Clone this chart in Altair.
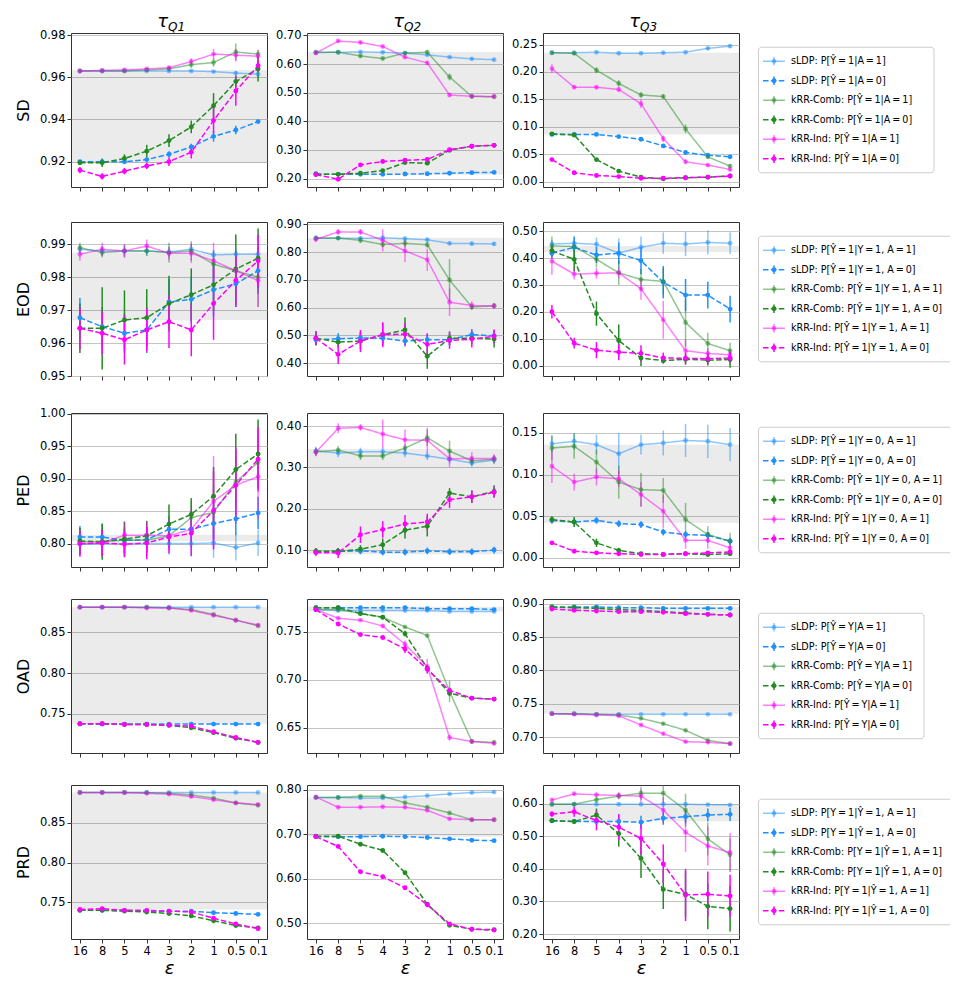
import altair as alt
import pandas as pd

# ---------------- data ----------------
EPS = ["16", "8", "5", "4", "3", "2", "1", "0.5", "0.1"]
SERIES = ["sLDP_A1", "sLDP_A0", "Comb_A1", "Comb_A0", "Ind_A1", "Ind_A0"]
PREFIX = ["sLDP: ", "sLDP: ", "kRR-Comb: ", "kRR-Comb: ", "kRR-Ind: ", "kRR-Ind: "]
METRICS = ["SD", "EOD", "PED", "OAD", "PRD"]
QUANTS = ["Q1", "Q2", "Q3"]

T = "\u2009=\u2009"  # thin-spaced equals sign
LEG_SD = [f"P[Ŷ{T}1|A{T}1]", f"P[Ŷ{T}1|A{T}0]"]
LEG_EOD = [f"P[Ŷ{T}1|Y{T}1, A{T}1]", f"P[Ŷ{T}1|Y{T}1, A{T}0]"]
LEG_PED = [f"P[Ŷ{T}1|Y{T}0, A{T}1]", f"P[Ŷ{T}1|Y{T}0, A{T}0]"]
LEG_OAD = [f"P[Ŷ{T}Y|A{T}1]", f"P[Ŷ{T}Y|A{T}0]"]
LEG_PRD = [f"P[Y{T}1|Ŷ{T}1, A{T}1]", f"P[Y{T}1|Ŷ{T}1, A{T}0]"]

# order of series in each panel: sLDP A=1, sLDP A=0, Comb A=1, Comb A=0, Ind A=1, Ind A=0
SD_Q1 = [
    [0.963, 0.963, 0.963, 0.963, 0.963, 0.963, 0.9627, 0.962, 0.9615],
    [0.920, 0.920, 0.920, 0.921, 0.9235, 0.927, 0.932, 0.935, 0.939],
    [0.963, 0.963, 0.963, 0.9635, 0.964, 0.966, 0.967, 0.972, 0.971],
    [0.9195, 0.9195, 0.9215, 0.925, 0.930, 0.9365, 0.9465, 0.958, 0.964],
    [0.963, 0.9633, 0.9635, 0.964, 0.9645, 0.9675, 0.971, 0.9705, 0.970],
    [0.916, 0.913, 0.9155, 0.918, 0.920, 0.9245, 0.9395, 0.9535, 0.9655]]
SD_Q1_ERR = [
    [0.0005, 0.0005, 0.0005, 0.0005, 0.0005, 0.0005, 0.0005, 0.001, 0.0015],
    [0.0008, 0.001, 0.001, 0.001, 0.0015, 0.0015, 0.0025, 0.002, 0.001],
    [0.0005, 0.0005, 0.0005, 0.0005, 0.0008, 0.0015, 0.002, 0.004, 0.002],
    [0.001, 0.002, 0.002, 0.003, 0.003, 0.003, 0.006, 0.003, 0.006],
    [0.0005, 0.0005, 0.0005, 0.0005, 0.0008, 0.0015, 0.0025, 0.003, 0.003],
    [0.0015, 0.0015, 0.0015, 0.0015, 0.002, 0.003, 0.006, 0.007, 0.003]]
SD_Q2 = [
    [0.640, 0.641, 0.642, 0.641, 0.638, 0.632, 0.624, 0.618, 0.615],
    [0.217, 0.216, 0.216, 0.216, 0.217, 0.218, 0.220, 0.222, 0.223],
    [0.641, 0.641, 0.628, 0.619, 0.638, 0.641, 0.555, 0.487, 0.486],
    [0.217, 0.216, 0.220, 0.229, 0.257, 0.255, 0.300, 0.314, 0.317],
    [0.638, 0.680, 0.675, 0.661, 0.624, 0.604, 0.492, 0.488, 0.487],
    [0.215, 0.199, 0.249, 0.261, 0.265, 0.268, 0.302, 0.314, 0.317]]
SD_Q2_ERR = [
    [0.004, 0.004, 0.004, 0.004, 0.004, 0.004, 0.004, 0.004, 0.004],
    [0.004, 0.004, 0.004, 0.004, 0.004, 0.004, 0.004, 0.004, 0.004],
    [0.004, 0.004, 0.006, 0.005, 0.006, 0.007, 0.012, 0.005, 0.005],
    [0.004, 0.004, 0.005, 0.005, 0.006, 0.006, 0.006, 0.005, 0.005],
    [0.005, 0.005, 0.005, 0.005, 0.006, 0.006, 0.006, 0.005, 0.005],
    [0.005, 0.006, 0.006, 0.006, 0.006, 0.006, 0.006, 0.005, 0.005]]
SD_Q3 = [
    [0.235, 0.235, 0.236, 0.234, 0.234, 0.235, 0.236, 0.243, 0.247],
    [0.086, 0.086, 0.086, 0.082, 0.077, 0.065, 0.053, 0.048, 0.045],
    [0.235, 0.234, 0.203, 0.179, 0.158, 0.155, 0.096, 0.045, 0.028],
    [0.087, 0.085, 0.040, 0.019, 0.008, 0.005, 0.007, 0.008, 0.010],
    [0.206, 0.172, 0.172, 0.168, 0.142, 0.078, 0.036, 0.030, 0.022],
    [0.040, 0.016, 0.011, 0.009, 0.006, 0.006, 0.007, 0.008, 0.010]]
SD_Q3_ERR = [
    [0.002, 0.002, 0.002, 0.002, 0.002, 0.002, 0.002, 0.003, 0.003],
    [0.002, 0.002, 0.002, 0.002, 0.002, 0.002, 0.002, 0.002, 0.002],
    [0.002, 0.003, 0.005, 0.006, 0.005, 0.004, 0.008, 0.004, 0.004],
    [0.002, 0.003, 0.003, 0.002, 0.002, 0.001, 0.001, 0.001, 0.001],
    [0.008, 0.003, 0.003, 0.004, 0.008, 0.006, 0.004, 0.003, 0.003],
    [0.002, 0.002, 0.001, 0.001, 0.001, 0.001, 0.001, 0.001, 0.001]]

EOD_Q1 = [
    [0.9885, 0.988, 0.988, 0.988, 0.9877, 0.9885, 0.9868, 0.987, 0.987],
    [0.9677, 0.965, 0.963, 0.964, 0.9725, 0.9733, 0.9762, 0.978, 0.982],
    [0.989, 0.9875, 0.988, 0.988, 0.9875, 0.988, 0.984, 0.982, 0.980],
    [0.9645, 0.9645, 0.967, 0.9677, 0.972, 0.9747, 0.9777, 0.9825, 0.9858],
    [0.987, 0.9885, 0.988, 0.9895, 0.9873, 0.9873, 0.985, 0.982, 0.979],
    [0.9645, 0.963, 0.961, 0.964, 0.9665, 0.964, 0.972, 0.979, 0.985]]
EOD_Q1_ERR = [
    [0.0015, 0.0015, 0.0015, 0.0015, 0.0015, 0.0015, 0.0015, 0.0015, 0.0015],
    [0.006, 0.006, 0.006, 0.007, 0.007, 0.007, 0.008, 0.007, 0.007],
    [0.0015, 0.0015, 0.002, 0.0015, 0.003, 0.003, 0.004, 0.006, 0.009],
    [0.0075, 0.0125, 0.009, 0.0087, 0.0085, 0.008, 0.008, 0.0105, 0.009],
    [0.002, 0.002, 0.002, 0.002, 0.002, 0.003, 0.0055, 0.005, 0.008],
    [0.0065, 0.0065, 0.0075, 0.0065, 0.008, 0.008, 0.011, 0.008, 0.008]]
EOD_Q2 = [
    [0.852, 0.851, 0.850, 0.852, 0.849, 0.845, 0.832, 0.831, 0.830],
    [0.485, 0.488, 0.491, 0.490, 0.480, 0.485, 0.485, 0.503, 0.499],
    [0.850, 0.851, 0.843, 0.828, 0.832, 0.827, 0.700, 0.603, 0.607],
    [0.490, 0.476, 0.480, 0.503, 0.520, 0.425, 0.490, 0.490, 0.487],
    [0.847, 0.873, 0.873, 0.843, 0.805, 0.773, 0.620, 0.608, 0.606],
    [0.490, 0.432, 0.480, 0.503, 0.505, 0.468, 0.482, 0.487, 0.497]]
EOD_Q2_ERR = [
    [0.007, 0.007, 0.007, 0.007, 0.007, 0.007, 0.007, 0.007, 0.007],
    [0.02, 0.02, 0.02, 0.02, 0.02, 0.02, 0.02, 0.02, 0.02],
    [0.005, 0.005, 0.01, 0.01, 0.015, 0.01, 0.075, 0.01, 0.01],
    [0.025, 0.02, 0.03, 0.04, 0.045, 0.045, 0.025, 0.02, 0.03],
    [0.01, 0.01, 0.01, 0.04, 0.04, 0.04, 0.05, 0.015, 0.01],
    [0.025, 0.035, 0.04, 0.045, 0.04, 0.04, 0.03, 0.03, 0.025]]
EOD_Q3 = [
    [0.452, 0.455, 0.451, 0.418, 0.440, 0.455, 0.452, 0.458, 0.455],
    [0.418, 0.440, 0.411, 0.418, 0.390, 0.310, 0.262, 0.262, 0.210],
    [0.445, 0.443, 0.395, 0.345, 0.320, 0.313, 0.160, 0.082, 0.055],
    [0.427, 0.395, 0.193, 0.093, 0.028, 0.018, 0.023, 0.020, 0.022],
    [0.388, 0.340, 0.343, 0.345, 0.285, 0.170, 0.055, 0.045, 0.040],
    [0.200, 0.083, 0.057, 0.050, 0.045, 0.028, 0.027, 0.025, 0.028]]
EOD_Q3_ERR = [
    [0.015, 0.02, 0.025, 0.055, 0.04, 0.04, 0.045, 0.045, 0.04],
    [0.02, 0.04, 0.03, 0.04, 0.05, 0.06, 0.06, 0.05, 0.05],
    [0.035, 0.02, 0.03, 0.045, 0.04, 0.05, 0.09, 0.04, 0.03],
    [0.02, 0.045, 0.045, 0.06, 0.03, 0.01, 0.02, 0.02, 0.03],
    [0.05, 0.02, 0.02, 0.02, 0.04, 0.07, 0.04, 0.02, 0.02],
    [0.025, 0.02, 0.03, 0.03, 0.03, 0.02, 0.02, 0.02, 0.02]]

PED_Q1 = [
    [0.799, 0.800, 0.800, 0.800, 0.800, 0.800, 0.801, 0.794, 0.801],
    [0.810, 0.810, 0.805, 0.806, 0.822, 0.822, 0.831, 0.838, 0.847],
    [0.803, 0.803, 0.805, 0.805, 0.812, 0.840, 0.848, 0.895, 0.925],
    [0.804, 0.803, 0.807, 0.812, 0.830, 0.845, 0.873, 0.914, 0.938],
    [0.800, 0.801, 0.813, 0.813, 0.812, 0.822, 0.865, 0.890, 0.903],
    [0.800, 0.801, 0.799, 0.801, 0.810, 0.816, 0.851, 0.890, 0.930]]
PED_Q1_ERR = [
    [0.015, 0.02, 0.015, 0.02, 0.017, 0.02, 0.023, 0.02, 0.02],
    [0.017, 0.02, 0.02, 0.02, 0.02, 0.02, 0.025, 0.025, 0.025],
    [0.02, 0.02, 0.02, 0.02, 0.02, 0.025, 0.04, 0.04, 0.04],
    [0.02, 0.028, 0.027, 0.023, 0.03, 0.025, 0.045, 0.055, 0.053],
    [0.02, 0.02, 0.02, 0.02, 0.02, 0.03, 0.07, 0.06, 0.065],
    [0.02, 0.02, 0.02, 0.025, 0.025, 0.035, 0.06, 0.055, 0.05]]
PED_Q2 = [
    [0.340, 0.335, 0.338, 0.338, 0.335, 0.328, 0.320, 0.311, 0.318],
    [0.095, 0.097, 0.098, 0.095, 0.095, 0.098, 0.096, 0.096, 0.100],
    [0.338, 0.342, 0.328, 0.328, 0.347, 0.372, 0.340, 0.316, 0.320],
    [0.097, 0.097, 0.102, 0.113, 0.148, 0.158, 0.238, 0.229, 0.242],
    [0.337, 0.395, 0.397, 0.381, 0.367, 0.366, 0.321, 0.322, 0.322],
    [0.094, 0.093, 0.137, 0.150, 0.163, 0.168, 0.222, 0.229, 0.240]]
PED_Q2_ERR = [
    [0.01, 0.01, 0.01, 0.01, 0.01, 0.01, 0.01, 0.01, 0.01],
    [0.008, 0.008, 0.008, 0.008, 0.008, 0.008, 0.008, 0.008, 0.008],
    [0.01, 0.01, 0.01, 0.01, 0.01, 0.02, 0.025, 0.01, 0.01],
    [0.008, 0.008, 0.01, 0.015, 0.02, 0.025, 0.012, 0.015, 0.015],
    [0.01, 0.012, 0.008, 0.035, 0.025, 0.03, 0.02, 0.015, 0.01],
    [0.008, 0.012, 0.02, 0.02, 0.022, 0.02, 0.02, 0.015, 0.012]]
PED_Q3 = [
    [0.137, 0.140, 0.136, 0.125, 0.136, 0.138, 0.141, 0.140, 0.136],
    [0.045, 0.043, 0.045, 0.041, 0.040, 0.031, 0.028, 0.027, 0.020],
    [0.132, 0.134, 0.115, 0.091, 0.082, 0.081, 0.046, 0.028, 0.020],
    [0.046, 0.043, 0.018, 0.009, 0.005, 0.004, 0.005, 0.004, 0.005],
    [0.110, 0.091, 0.097, 0.095, 0.076, 0.056, 0.021, 0.021, 0.012],
    [0.018, 0.008, 0.006, 0.005, 0.004, 0.004, 0.005, 0.006, 0.007]]
PED_Q3_ERR = [
    [0.01, 0.01, 0.012, 0.025, 0.012, 0.015, 0.02, 0.02, 0.02],
    [0.004, 0.004, 0.004, 0.004, 0.004, 0.004, 0.004, 0.004, 0.004],
    [0.015, 0.015, 0.015, 0.02, 0.02, 0.015, 0.02, 0.01, 0.01],
    [0.004, 0.006, 0.005, 0.003, 0.002, 0.002, 0.002, 0.002, 0.002],
    [0.02, 0.01, 0.01, 0.01, 0.015, 0.02, 0.01, 0.01, 0.008],
    [0.002, 0.002, 0.002, 0.002, 0.002, 0.002, 0.002, 0.002, 0.002]]

OAD_Q1 = [
    [0.881, 0.881, 0.881, 0.881, 0.881, 0.881, 0.881, 0.881, 0.881],
    [0.7375, 0.7375, 0.7375, 0.7375, 0.7375, 0.7375, 0.7375, 0.7375, 0.7375],
    [0.881, 0.881, 0.881, 0.881, 0.880, 0.878, 0.872, 0.865, 0.858],
    [0.738, 0.738, 0.737, 0.737, 0.736, 0.733, 0.727, 0.720, 0.715],
    [0.881, 0.881, 0.881, 0.880, 0.880, 0.877, 0.871, 0.865, 0.859],
    [0.738, 0.738, 0.737, 0.737, 0.736, 0.735, 0.728, 0.721, 0.715]]
OAD_Q1_ERR = [
    [0.0005, 0.0005, 0.0005, 0.0005, 0.0005, 0.0005, 0.0005, 0.0005, 0.0005],
    [0.0005, 0.0005, 0.0005, 0.0005, 0.0005, 0.0005, 0.0005, 0.0005, 0.0005],
    [0.0005, 0.0005, 0.0005, 0.0005, 0.0008, 0.001, 0.0015, 0.0015, 0.0015],
    [0.0005, 0.0005, 0.0005, 0.0005, 0.001, 0.0015, 0.0015, 0.002, 0.002],
    [0.0005, 0.0005, 0.0005, 0.0005, 0.0008, 0.001, 0.0015, 0.0015, 0.0015],
    [0.0005, 0.0005, 0.0005, 0.0005, 0.001, 0.002, 0.002, 0.002, 0.002]]
OAD_Q2 = [
    [0.773, 0.772, 0.772, 0.772, 0.772, 0.772, 0.771, 0.771, 0.771],
    [0.775, 0.775, 0.775, 0.775, 0.775, 0.774, 0.774, 0.774, 0.773],
    [0.773, 0.773, 0.769, 0.765, 0.755, 0.746, 0.688, 0.636, 0.635],
    [0.775, 0.775, 0.769, 0.765, 0.748, 0.712, 0.686, 0.681, 0.680],
    [0.773, 0.764, 0.762, 0.756, 0.737, 0.714, 0.640, 0.636, 0.634],
    [0.773, 0.758, 0.747, 0.744, 0.732, 0.711, 0.689, 0.681, 0.680]]
OAD_Q2_ERR = [
    [0.001, 0.001, 0.001, 0.001, 0.001, 0.001, 0.001, 0.001, 0.001],
    [0.001, 0.001, 0.001, 0.001, 0.001, 0.001, 0.001, 0.001, 0.001],
    [0.001, 0.001, 0.001, 0.001, 0.001, 0.002, 0.011, 0.002, 0.002],
    [0.001, 0.001, 0.001, 0.002, 0.003, 0.003, 0.003, 0.002, 0.002],
    [0.001, 0.001, 0.001, 0.002, 0.004, 0.008, 0.003, 0.002, 0.002],
    [0.001, 0.002, 0.002, 0.002, 0.004, 0.004, 0.003, 0.002, 0.002]]
OAD_Q3 = [
    [0.735, 0.735, 0.734, 0.734, 0.734, 0.734, 0.734, 0.734, 0.734],
    [0.895, 0.895, 0.895, 0.894, 0.894, 0.893, 0.893, 0.893, 0.893],
    [0.735, 0.735, 0.734, 0.733, 0.728, 0.720, 0.710, 0.695, 0.690],
    [0.895, 0.894, 0.893, 0.891, 0.890, 0.888, 0.886, 0.884, 0.883],
    [0.735, 0.734, 0.733, 0.732, 0.718, 0.705, 0.693, 0.692, 0.690],
    [0.892, 0.890, 0.889, 0.888, 0.888, 0.887, 0.885, 0.884, 0.883]]
OAD_Q3_ERR = [
    [0.001, 0.001, 0.001, 0.001, 0.001, 0.001, 0.001, 0.001, 0.001],
    [0.001, 0.001, 0.001, 0.001, 0.001, 0.001, 0.001, 0.001, 0.001],
    [0.001, 0.001, 0.001, 0.001, 0.002, 0.002, 0.002, 0.002, 0.002],
    [0.001, 0.001, 0.001, 0.001, 0.001, 0.001, 0.001, 0.001, 0.001],
    [0.001, 0.001, 0.001, 0.001, 0.002, 0.002, 0.002, 0.002, 0.002],
    [0.001, 0.001, 0.001, 0.001, 0.001, 0.001, 0.001, 0.001, 0.001]]

PRD_Q1 = [
    [0.888, 0.888, 0.888, 0.888, 0.888, 0.888, 0.888, 0.888, 0.888],
    [0.740, 0.740, 0.740, 0.739, 0.739, 0.739, 0.737, 0.736, 0.735],
    [0.888, 0.888, 0.888, 0.888, 0.887, 0.885, 0.881, 0.875, 0.872],
    [0.740, 0.740, 0.739, 0.738, 0.736, 0.733, 0.727, 0.721, 0.718],
    [0.888, 0.888, 0.888, 0.887, 0.886, 0.883, 0.879, 0.875, 0.873],
    [0.741, 0.742, 0.740, 0.740, 0.739, 0.738, 0.730, 0.723, 0.717]]
PRD_Q1_ERR = [
    [0.0005, 0.0005, 0.0005, 0.0005, 0.0005, 0.0005, 0.0005, 0.0005, 0.0005],
    [0.0005, 0.0005, 0.0005, 0.0005, 0.0005, 0.0005, 0.0005, 0.0005, 0.0005],
    [0.0005, 0.0005, 0.0005, 0.0005, 0.001, 0.001, 0.0015, 0.0015, 0.0015],
    [0.0005, 0.0005, 0.0005, 0.0005, 0.001, 0.0015, 0.0015, 0.002, 0.002],
    [0.0005, 0.0005, 0.0005, 0.0005, 0.001, 0.0015, 0.0015, 0.0015, 0.0015],
    [0.001, 0.001, 0.001, 0.001, 0.001, 0.0015, 0.002, 0.002, 0.002]]
PRD_Q2 = [
    [0.783, 0.783, 0.782, 0.782, 0.784, 0.787, 0.791, 0.794, 0.795],
    [0.695, 0.695, 0.695, 0.696, 0.695, 0.693, 0.690, 0.687, 0.686],
    [0.783, 0.783, 0.786, 0.786, 0.771, 0.761, 0.748, 0.733, 0.733],
    [0.696, 0.696, 0.678, 0.664, 0.614, 0.543, 0.496, 0.487, 0.486],
    [0.784, 0.761, 0.761, 0.762, 0.761, 0.754, 0.735, 0.733, 0.733],
    [0.695, 0.673, 0.616, 0.605, 0.580, 0.542, 0.499, 0.487, 0.485]]
PRD_Q2_ERR = [
    [0.002, 0.002, 0.002, 0.002, 0.002, 0.002, 0.002, 0.002, 0.002],
    [0.002, 0.002, 0.002, 0.002, 0.002, 0.002, 0.002, 0.002, 0.002],
    [0.002, 0.002, 0.003, 0.003, 0.003, 0.003, 0.003, 0.003, 0.003],
    [0.002, 0.002, 0.003, 0.003, 0.004, 0.005, 0.004, 0.003, 0.003],
    [0.002, 0.002, 0.002, 0.003, 0.003, 0.003, 0.003, 0.003, 0.003],
    [0.002, 0.003, 0.003, 0.003, 0.004, 0.005, 0.004, 0.003, 0.003]]
PRD_Q3 = [
    [0.598, 0.598, 0.598, 0.598, 0.598, 0.598, 0.598, 0.597, 0.596],
    [0.547, 0.545, 0.545, 0.545, 0.543, 0.555, 0.560, 0.565, 0.567],
    [0.598, 0.598, 0.612, 0.623, 0.632, 0.632, 0.580, 0.492, 0.443],
    [0.548, 0.545, 0.565, 0.508, 0.432, 0.337, 0.322, 0.285, 0.278],
    [0.611, 0.630, 0.627, 0.625, 0.623, 0.580, 0.512, 0.470, 0.450],
    [0.568, 0.575, 0.548, 0.528, 0.493, 0.415, 0.320, 0.322, 0.317]]
PRD_Q3_ERR = [
    [0.003, 0.003, 0.003, 0.003, 0.003, 0.003, 0.003, 0.003, 0.003],
    [0.005, 0.005, 0.01, 0.015, 0.02, 0.02, 0.02, 0.02, 0.02],
    [0.005, 0.005, 0.01, 0.01, 0.02, 0.03, 0.05, 0.05, 0.05],
    [0.005, 0.005, 0.02, 0.04, 0.06, 0.06, 0.07, 0.07, 0.07],
    [0.005, 0.005, 0.005, 0.01, 0.02, 0.04, 0.06, 0.06, 0.06],
    [0.008, 0.015, 0.03, 0.04, 0.05, 0.06, 0.08, 0.07, 0.065]]

# grey reference band (low, high) per panel
BAND_SD = [[0.9195, 0.9635], [0.215, 0.642], [0.086, 0.235]]
BAND_EOD = [[0.967, 0.9875], [0.485, 0.852], [0.422, 0.445]]
BAND_PED = [[0.804, 0.8135], [0.090, 0.345], [0.042, 0.136]]
BAND_OAD = [[0.738, 0.881], [0.771, 0.776], [0.735, 0.895]]
BAND_PRD = [[0.741, 0.888], [0.695, 0.783], [0.546, 0.598]]

# y tick labels per panel
TICKS_SD = [[0.92, 0.94, 0.96, 0.98], [0.2, 0.3, 0.4, 0.5, 0.6, 0.7], [0.0, 0.05, 0.1, 0.15, 0.2, 0.25]]
TICKS_EOD = [[0.95, 0.96, 0.97, 0.98, 0.99], [0.4, 0.5, 0.6, 0.7, 0.8, 0.9], [0.0, 0.1, 0.2, 0.3, 0.4, 0.5]]
TICKS_PED = [[0.8, 0.85, 0.9, 0.95, 1.0], [0.1, 0.2, 0.3, 0.4], [0.0, 0.05, 0.1, 0.15]]
TICKS_OAD = [[0.75, 0.8, 0.85], [0.65, 0.7, 0.75], [0.7, 0.75, 0.8, 0.85, 0.9]]
TICKS_PRD = [[0.75, 0.8, 0.85], [0.5, 0.6, 0.7, 0.8], [0.2, 0.3, 0.4, 0.5, 0.6]]

# ---------------- layout / style ----------------
DOM_SD = [[0.908, 0.981], [0.172, 0.708], [-0.010, 0.271]]
DOM_EOD = [[0.950, 0.9968], [0.354, 0.909], [-0.039, 0.534]]
DOM_PED = [[0.764, 1.001], [0.059, 0.432], [-0.011, 0.174]]
DOM_OAD = [[0.702, 0.891], [0.624, 0.784], [0.676, 0.907]]
DOM_PRD = [[0.704, 0.8975], [0.465, 0.811], [0.185, 0.657]]

COLORS = ["rgba(30,144,255,0.5)", "#1e90ff", "rgba(34,139,34,0.5)", "#228b22",
          "rgba(255,0,255,0.5)", "#ff00ff"]
DASHES = [[1, 0], [5.5, 2.4], [1, 0], [5.5, 2.4], [1, 0], [5.5, 2.4]]
FONT = "DejaVu Sans"
W, H = 196, 154
LW = 192

ROWS = [
    ("SD", [SD_Q1, SD_Q2, SD_Q3], [SD_Q1_ERR, SD_Q2_ERR, SD_Q3_ERR], BAND_SD, TICKS_SD, DOM_SD, LEG_SD, 176),
    ("EOD", [EOD_Q1, EOD_Q2, EOD_Q3], [EOD_Q1_ERR, EOD_Q2_ERR, EOD_Q3_ERR], BAND_EOD, TICKS_EOD, DOM_EOD, LEG_EOD, 240),
    ("PED", [PED_Q1, PED_Q2, PED_Q3], [PED_Q1_ERR, PED_Q2_ERR, PED_Q3_ERR], BAND_PED, TICKS_PED, DOM_PED, LEG_PED, 240),
    ("OAD", [OAD_Q1, OAD_Q2, OAD_Q3], [OAD_Q1_ERR, OAD_Q2_ERR, OAD_Q3_ERR], BAND_OAD, TICKS_OAD, DOM_OAD, LEG_OAD, 166),
    ("PRD", [PRD_Q1, PRD_Q2, PRD_Q3], [PRD_Q1_ERR, PRD_Q2_ERR, PRD_Q3_ERR], BAND_PRD, TICKS_PRD, DOM_PRD, LEG_PRD, 240),
]

color_enc = alt.Color("series:N", scale=alt.Scale(domain=SERIES, range=COLORS), legend=None)
dash_enc = alt.StrokeDash("series:N", scale=alt.Scale(domain=SERIES, range=DASHES), legend=None)


def make_panel(metric, qi, means, errs, band, ticks, dom, top, bottom):
    recs = []
    for si, s in enumerate(SERIES):
        for k, e in enumerate(EPS):
            m = means[si][k]
            d = errs[si][k]
            recs.append({"eps": e, "series": s, "mean": m, "lo": m - d, "hi": m + d})
    df = pd.DataFrame(recs)
    yscale = alt.Scale(domain=dom, nice=False, zero=False)
    yaxis = alt.Axis(values=ticks, format=".2f", title=metric if qi == 0 else None,
                     grid=True, titleFontSize=16, titlePadding=8)
    xaxis = alt.Axis(labels=bottom, title="ε" if bottom else None, labelAngle=0, grid=False,
                     titleFontSize=18, titleFontStyle="italic", titlePadding=3)
    X = alt.X("eps:O", sort=EPS, scale=alt.Scale(type="point", domain=EPS, padding=0.4), axis=xaxis)

    band_df = pd.DataFrame({"lo": [band[0]], "hi": [band[1]]})
    band_l = alt.Chart(band_df).mark_rect(color="black", opacity=0.08, clip=True).encode(
        x=alt.value(0), x2=alt.value(W),
        y=alt.Y("lo:Q", scale=yscale, axis=yaxis), y2="hi:Q")
    base = alt.Chart(df)
    err = base.mark_rule(strokeWidth=1.5, clip=True).encode(
        x=X, y=alt.Y("lo:Q", scale=yscale, axis=yaxis), y2="hi:Q", color=color_enc)
    line = base.mark_line(strokeWidth=1.5, clip=True).encode(
        x=X, y=alt.Y("mean:Q", scale=yscale, axis=yaxis),
        color=color_enc, strokeDash=dash_enc)
    pts = base.mark_circle(size=24, opacity=1, clip=True).encode(
        x=X, y=alt.Y("mean:Q", scale=yscale, axis=yaxis), color=color_enc)
    layers = [band_l, err, line, pts]
    if top:
        tdf = pd.DataFrame({"t": ["τ"], "s": [QUANTS[qi]]})
        t1 = alt.Chart(tdf).mark_text(font=FONT, fontSize=18, fontStyle="italic", align="right",
                                      baseline="alphabetic").encode(
            x=alt.value(W / 2 - 1), y=alt.value(-6), text="t:N")
        t2 = alt.Chart(tdf).mark_text(font=FONT, fontSize=12, fontStyle="italic", align="left",
                                      baseline="alphabetic").encode(
            x=alt.value(W / 2 - 1), y=alt.value(-2), text="s:N")
        layers += [t1, t2]
    return alt.layer(*layers).properties(width=W, height=H)


def make_legend(sub, box_w):
    df = pd.DataFrame({
        "idx": list(range(6)),
        "series": SERIES,
        "label": [PREFIX[i] + sub[i % 2] for i in range(6)],
    })
    df["elo"] = df["idx"] - 0.22
    df["ehi"] = df["idx"] + 0.22
    ysc = alt.Scale(domain=[-1.45, 6.45], reverse=True, nice=False, zero=False)
    Y = alt.Y("idx:Q", scale=ysc, axis=None)
    box = alt.Chart(pd.DataFrame({"a": [-0.72], "b": [5.72]})).mark_rect(
        fill="white", stroke="#cccccc", strokeWidth=1, cornerRadius=3, clip=True).encode(
        x=alt.value(0.5), x2=alt.value(box_w), y=alt.Y("a:Q", scale=ysc, axis=None), y2="b:Q")
    base = alt.Chart(df)
    sample = base.mark_rule(strokeWidth=1.5).encode(
        x=alt.value(5), x2=alt.value(27), y=Y, color=color_enc, strokeDash=dash_enc)
    ebar = base.mark_rule(strokeWidth=1.5).encode(
        x=alt.value(16), y=alt.Y("elo:Q", scale=ysc, axis=None), y2="ehi:Q", color=color_enc)
    dot = base.mark_circle(size=24, opacity=1).encode(x=alt.value(16), y=Y, color=color_enc)
    text = base.mark_text(font=FONT, fontSize=9.6, align="left", baseline="middle").encode(
        x=alt.value(33), y=Y, text="label:N")
    return alt.layer(box, sample, ebar, dot, text).properties(
        width=LW, height=H, view=alt.ViewBackground(stroke=None))


rows = []
for ri, (metric, means3, errs3, bands, ticks3, doms, leg, box_w) in enumerate(ROWS):
    panels = [make_panel(metric, qi, means3[qi], errs3[qi], bands[qi], ticks3[qi], doms[qi],
                         ri == 0, ri == len(ROWS) - 1) for qi in range(3)]
    row = alt.hconcat(panels[0], panels[1], panels[2], spacing=6)
    rows.append(alt.hconcat(row, make_legend(leg, box_w), spacing=18))

chart = alt.vconcat(*rows, spacing=25).configure_view(
    stroke="#333333", strokeWidth=1
).configure_axis(
    labelFont=FONT, labelFontSize=11.5, labelColor="#000000", tickColor="#333333",
    tickSize=4, domain=False, titleFont=FONT, titleFontWeight="normal", titleColor="#000000",
    gridColor="#c4c4c4", gridWidth=1.2, labelPadding=2
).properties(padding={"left": 6, "right": 0, "top": 4, "bottom": 0})

chart.save("out.html", embed_options={"renderer": "svg", "actions": False})
